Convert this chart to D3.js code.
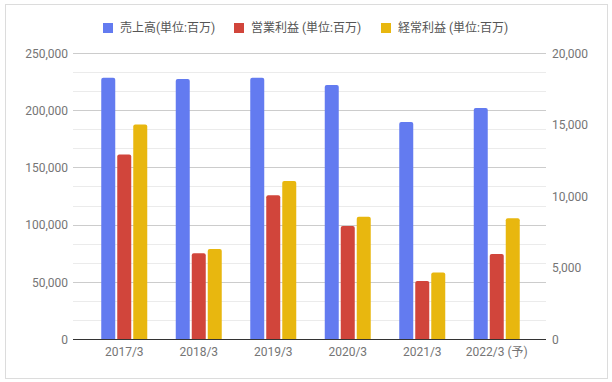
<!DOCTYPE html>
<html>
<head>
<meta charset="utf-8">
<script src="https://cdn.jsdelivr.net/npm/d3@7"></script>
<style>
  body { margin: 0; background: #fff; }
  text { font-family: Roboto, "Noto Sans CJK JP", sans-serif; }
</style>
</head>
<body>
<svg id="svgElement" width="612" height="382"></svg>
<script>
const categories = ["2017/3", "2018/3", "2019/3", "2020/3", "2021/3", "2022/3 (予)"];
const seriesNames = ["売上高(単位:百万)", "営業利益 (単位:百万)", "経常利益 (単位:百万)"];
const sales = [228400, 227300, 228400, 222000, 189700, 202000];
const operatingProfit = [12900, 6000, 10050, 7900, 4050, 5950];
const ordinaryProfit = [15000, 6300, 11050, 8550, 4650, 8450];
const leftTicks = [0, 50000, 100000, 150000, 200000, 250000];
const rightTicks = [0, 5000, 10000, 15000, 20000];

const colors = ["#637bf0", "#d1453b", "#e8b70f"];

const svg = d3.select("#svgElement");

const plotTop = 53, plotBottom = 339;
const gridLeft = 73, gridRight = 546;

const x0 = d3.scaleBand().domain(categories).range([87, 534]);
const x1 = d3.scaleBand().domain([0, 1, 2]).range([0, 46]).paddingInner(0.125);
const yLeft = d3.scaleLinear().domain([0, 250000]).range([plotBottom, plotTop]);
const yRight = d3.scaleLinear().domain([0, 20000]).range([plotBottom, plotTop]);

// outer border
svg
  .append("rect")
  .attr("x", 5.5)
  .attr("y", 4.5)
  .attr("width", 602)
  .attr("height", 374)
  .attr("fill", "none")
  .attr("stroke", "#dcdcdc");

// gridlines: 15 steps, every 3rd one darker
const gridValues = d3.range(1, 16).map((i) => (250000 / 15) * i);
svg
  .append("g")
  .selectAll("line")
  .data(gridValues)
  .join("line")
  .attr("x1", gridLeft)
  .attr("x2", gridRight)
  .attr("y1", (d) => Math.round(yLeft(d)) + 0.5)
  .attr("y2", (d) => Math.round(yLeft(d)) + 0.5)
  .attr("stroke", (d, i) => ((i + 1) % 3 === 0 ? "#cccccc" : "#ebebeb"))
  .attr("stroke-width", 1);

// left axis labels
const leftAxis = d3
  .axisLeft(yLeft)
  .tickValues(leftTicks)
  .tickFormat(d3.format(","))
  .tickSize(0)
  .tickPadding(0);
const gl = svg.append("g").attr("transform", "translate(68,0)").call(leftAxis);
gl.select(".domain").remove();
gl.selectAll("text")
  .attr("fill", "#757575")
  .style("font-size", "12px")
  .attr("dy", "0.35em");

// right axis labels
const rightAxis = d3
  .axisRight(yRight)
  .tickValues(rightTicks)
  .tickFormat(d3.format(","))
  .tickSize(0)
  .tickPadding(0);
const gr = svg.append("g").attr("transform", "translate(552,0)").call(rightAxis);
gr.select(".domain").remove();
gr.selectAll("text")
  .attr("fill", "#757575")
  .style("font-size", "12px")
  .attr("dy", "0.35em");

// bar with rounded top corners
const barPath = (x, y, w, h, r) => {
  r = Math.min(r, h, w / 2);
  return `M${x},${y + h}V${y + r}Q${x},${y} ${x + r},${y}H${x + w - r}Q${x + w},${y} ${x + w},${y + r}V${y + h}Z`;
};

const rows = categories.map((c, i) => [
  { cat: c, s: 0, y: yLeft(sales[i]) },
  { cat: c, s: 1, y: yRight(operatingProfit[i]) },
  { cat: c, s: 2, y: yRight(ordinaryProfit[i]) },
]);

svg
  .append("g")
  .selectAll("g")
  .data(rows)
  .join("g")
  .attr("transform", (d) => `translate(${x0(d[0].cat) + x0.bandwidth() / 2 - 23},0)`)
  .selectAll("path")
  .data((d) => d)
  .join("path")
  .attr("d", (d) => barPath(x1(d.s), d.y, x1.bandwidth(), plotBottom - d.y, 2))
  .attr("fill", (d) => colors[d.s]);

// baseline
svg
  .append("line")
  .attr("x1", gridLeft)
  .attr("x2", gridRight)
  .attr("y1", plotBottom + 0.5)
  .attr("y2", plotBottom + 0.5)
  .attr("stroke", "#333")
  .attr("stroke-width", 1);

// x axis labels
const xAxis = d3.axisBottom(x0).tickSize(0).tickPadding(0);
const gx = svg.append("g").attr("transform", `translate(0,${plotBottom + 13})`).call(xAxis);
gx.select(".domain").remove();
gx.selectAll("text")
  .attr("fill", "#757575")
  .style("font-size", "12px")
  .attr("dy", "0.35em");

// legend
const legendX = [103, 234, 381];
const legend = svg
  .append("g")
  .selectAll("g")
  .data(seriesNames)
  .join("g")
  .attr("transform", (d, i) => `translate(${legendX[i]},28)`);

legend
  .append("rect")
  .attr("x", 0)
  .attr("y", -5)
  .attr("width", 10)
  .attr("height", 10)
  .attr("fill", (d, i) => colors[i]);

legend
  .append("text")
  .attr("x", 17)
  .attr("y", 0)
  .attr("dy", "0.35em")
  .attr("fill", "#555")
  .style("font-size", "12px")
  .text((d) => d);
</script>
</body>
</html>
